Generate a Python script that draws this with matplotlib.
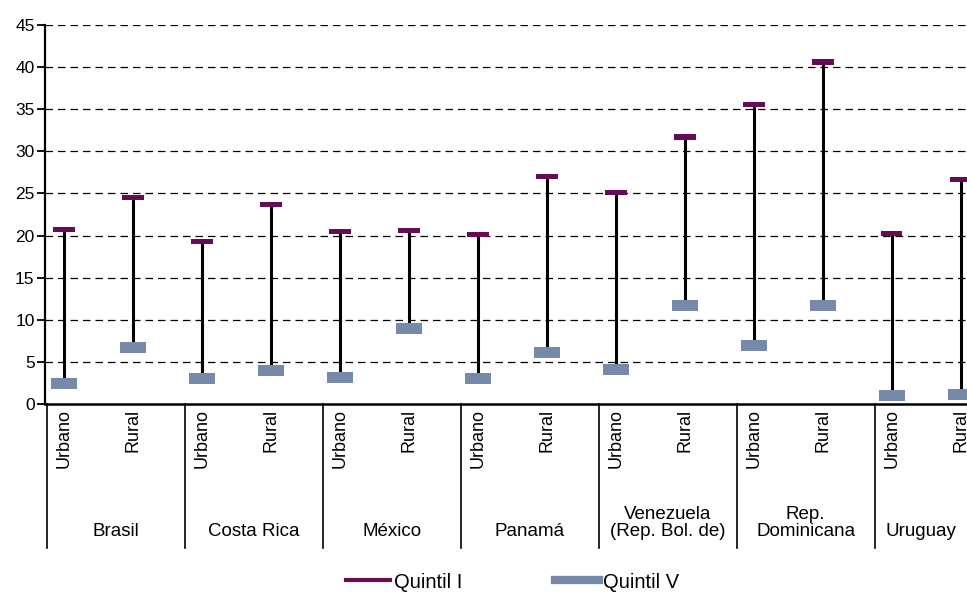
import matplotlib

matplotlib.use("Agg")

import matplotlib.pyplot as plt
from matplotlib.lines import Line2D

plt.rcParams["font.family"] = ["Liberation Sans", "DejaVu Sans"]
NARROW = ["Liberation Sans Narrow", "Liberation Sans", "DejaVu Sans"]

COUNTRIES = [
    "Brasil",
    "Costa Rica",
    "México",
    "Panamá",
    "Venezuela\n(Rep. Bol. de)",
    "Rep.\nDominicana",
    "Uruguay",
]
AREAS = ["Urbano", "Rural"]

# (Urbano, Rural) per country
QUINTIL_I = [20.7, 24.5, 19.3, 23.7, 20.5, 20.6, 20.1, 27.0, 25.1, 31.7, 35.6, 40.6, 20.2, 26.7]
QUINTIL_V = [2.4, 6.7, 3.0, 4.0, 3.2, 8.95, 3.0, 6.1, 4.1, 11.7, 6.9, 11.7, 1.0, 1.15]

Y_TICKS = [0, 5, 10, 15, 20, 25, 30, 35, 40, 45]

PURPLE = "#650c55"
BLUE = "#7689a8"


def main():
    fig = plt.figure(figsize=(9.67, 5.93), dpi=100)
    ax = fig.add_axes([45 / 967, 1 - 404 / 593, 1 - 45 / 967, 379 / 593])

    x = list(range(len(QUINTIL_I)))
    ax.vlines(x, QUINTIL_V, QUINTIL_I, color="black", linewidth=2.2, zorder=3)
    ax.bar(x, 0.62, bottom=[v - 0.31 for v in QUINTIL_I], width=0.31,
           color=PURPLE, zorder=4)
    ax.bar(x, 1.3, bottom=[v - 0.65 for v in QUINTIL_V], width=0.38,
           color=BLUE, zorder=4)

    ax.set_xlim(-0.275, 13.09)
    ax.set_ylim(0, 45)
    ax.set_yticks(Y_TICKS)
    ax.set_yticklabels([str(t) for t in Y_TICKS], fontsize=12.5)
    ax.tick_params(axis="y", length=6, width=1.3, pad=1.5)
    ax.set_xticks([])

    for t in Y_TICKS[1:]:
        ax.axhline(t, color="black", linewidth=0.9, dashes=(6, 4), zorder=1)

    for side in ["top", "right"]:
        ax.spines[side].set_visible(False)
    ax.spines["left"].set_linewidth(1.6)
    ax.spines["bottom"].set_linewidth(1.8)

    trans = ax.get_xaxis_transform()
    bottom_y = -(548 - 404) / 379
    for g in range(len(COUNTRIES)):
        sep = 2 * g - 0.25
        ax.plot([sep, sep], [0, bottom_y], color="black", linewidth=1.2,
                transform=trans, clip_on=False)
        for k, area in enumerate(AREAS):
            ax.text(2 * g + k, -(409 - 404) / 379, area, rotation=90,
                    ha="center", va="top", fontsize=13, transform=trans,
                    clip_on=False)
        left = sep
        right = min(sep + 2, 13.09)
        ax.text((left + right) / 2, -(540 - 404) / 379, COUNTRIES[g],
                ha="center", va="bottom", fontsize=13.5, family=NARROW,
                linespacing=1.0, transform=trans, clip_on=False)

    handles = [
        Line2D([], [], color=PURPLE, linewidth=3),
        Line2D([], [], color=BLUE, linewidth=6),
    ]
    fig.legend(handles, ["Quintil I", "Quintil V"], loc="center",
               bbox_to_anchor=(0.53, 1 - 582 / 593),
               ncol=2, frameon=False, handlelength=2.2, handletextpad=0.2,
               columnspacing=4.6, prop={"family": NARROW, "size": 14.5})

    fig.savefig("out.png", dpi=100)
    plt.close(fig)


if __name__ == "__main__":
    main()
